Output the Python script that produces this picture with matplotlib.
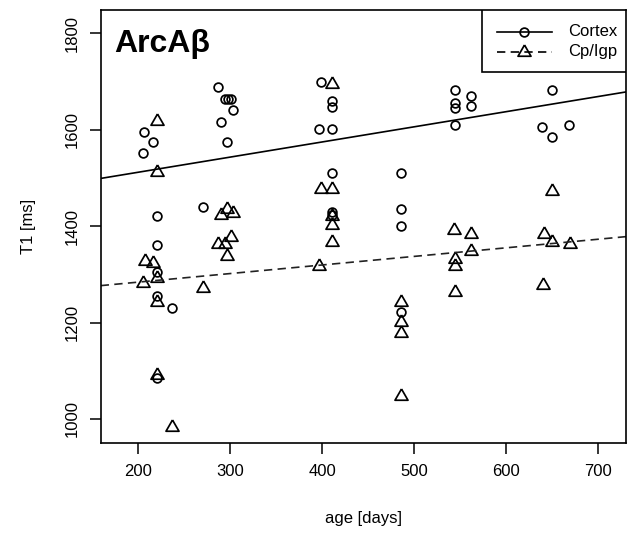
import matplotlib
matplotlib.use("Agg")
import matplotlib.pyplot as plt
from matplotlib.lines import Line2D
from matplotlib.patches import Rectangle

plt.rcParams["font.family"] = ["Liberation Sans", "DejaVu Sans"]

# T1 relaxation times vs. age, ArcAbeta mice
cortex_age = [206, 216, 205, 220, 220, 220, 220, 237, 220, 270,
              287, 294, 297, 301, 290, 296, 303, 399, 396, 411,
              411, 411, 411, 411, 411, 485, 486, 486, 485, 544,
              544, 544, 544, 562, 562, 639, 650, 650, 668]
cortex_t1 = [1596, 1575, 1551, 1421, 1361, 1305, 1255, 1231, 1086, 1440,
             1688, 1663, 1663, 1663, 1615, 1575, 1641, 1699, 1601, 1601,
             1659, 1648, 1511, 1429, 1423, 1511, 1436, 1401, 1221, 1683,
             1655, 1645, 1610, 1669, 1650, 1605, 1683, 1585, 1610]

cpigp_age = [220, 220, 207, 216, 220, 205, 220, 220, 237, 270,
             290, 296, 303, 301, 287, 294, 296, 399, 411, 411,
             411, 411, 411, 396, 486, 485, 486, 485, 543, 544,
             544, 544, 562, 562, 650, 641, 650, 640, 669]
cpigp_t1 = [1619, 1513, 1328, 1323, 1293, 1283, 1243, 1091, 984, 1272,
            1423, 1435, 1428, 1378, 1363, 1363, 1339, 1477, 1477, 1695,
            1422, 1402, 1368, 1318, 1243, 1202, 1178, 1048, 1393, 1332,
            1317, 1263, 1383, 1348, 1473, 1384, 1368, 1278, 1363]

# linear fits (intercept, slope)
cortex_fit = (1449.0, 0.3142)
cpigp_fit = (1248.3, 0.178)

x_ticks = [200, 300, 400, 500, 600, 700]
y_ticks = [1000, 1200, 1400, 1600, 1800]

# equilateral open triangle like R's pch=2
tri = [(0, 1), (-0.866, -0.5), (0.866, -0.5), (0, 1)]
circ_ms, tri_ms, mew = 6.3, 10.8, 1.25

fig = plt.figure(figsize=(6.3, 5.33), dpi=100)
ax = fig.add_axes([0.1598, 0.1683, 0.8339, 0.8129])

ax.plot(cortex_age, cortex_t1, ls="none", marker="o", ms=circ_ms, mfc="none",
        mec="black", mew=mew)
ax.plot(cpigp_age, cpigp_t1, ls="none", marker=tri, ms=tri_ms, mfc="none",
        mec="black", mew=mew)

ax.axline((0, cortex_fit[0]), slope=cortex_fit[1], color="black", lw=1.2)
ax.axline((0, cpigp_fit[0]), slope=cpigp_fit[1], color="#222222", lw=1.2,
          dashes=(5, 3.2))

ax.set_xlim(159.1, 730.1)
ax.set_ylim(949.6, 1848.3)
ax.set_xticks(x_ticks)
ax.set_yticks(y_ticks)
ax.tick_params(direction="out", length=8, width=1.1, labelsize=12, pad=7)
for lab in ax.get_yticklabels():
    lab.set_rotation(90)
    lab.set_va("center")
for sp in ax.spines.values():
    sp.set_linewidth(1.2)

ax.set_xlabel("age [days]", fontsize=12)
ax.set_ylabel("T1 [ms]", fontsize=12)
ax.xaxis.label.set_va("center")
ax.yaxis.label.set_va("center")
ax.xaxis.set_label_coords(0.5, -0.173)
ax.yaxis.set_label_coords(-0.1378, 0.5)

ax.text(0.0253, 0.902, "ArcA\u03b2", transform=ax.transAxes, fontsize=23,
        fontweight="bold", ha="left", va="baseline")

# legend box in the top-right corner
ax.add_patch(Rectangle((0.7253, 0.8576), 0.2747, 0.1424, transform=ax.transAxes,
                       facecolor="white", edgecolor="black", lw=1.2, zorder=5))
rows = [("Cortex", "-", "o", circ_ms, 0.9499), ("Cp/Igp", "--", tri, tri_ms, 0.9038)]
for label, ls, mk, ms, yy in rows:
    ax.add_line(Line2D([0.7539, 0.8586], [yy, yy], transform=ax.transAxes,
                       color="black", lw=1.2, ls=ls, zorder=6,
                       **({"dashes": (5, 3.2)} if ls == "--" else {})))
    ax.add_line(Line2D([0.8063], [yy], transform=ax.transAxes, marker=mk,
                       ms=ms, mfc="none", mec="black", mew=mew, zorder=6))
    ax.text(0.8897, yy, label, transform=ax.transAxes, fontsize=12,
            ha="left", va="center", zorder=7)

fig.savefig("out.png", dpi=100)
